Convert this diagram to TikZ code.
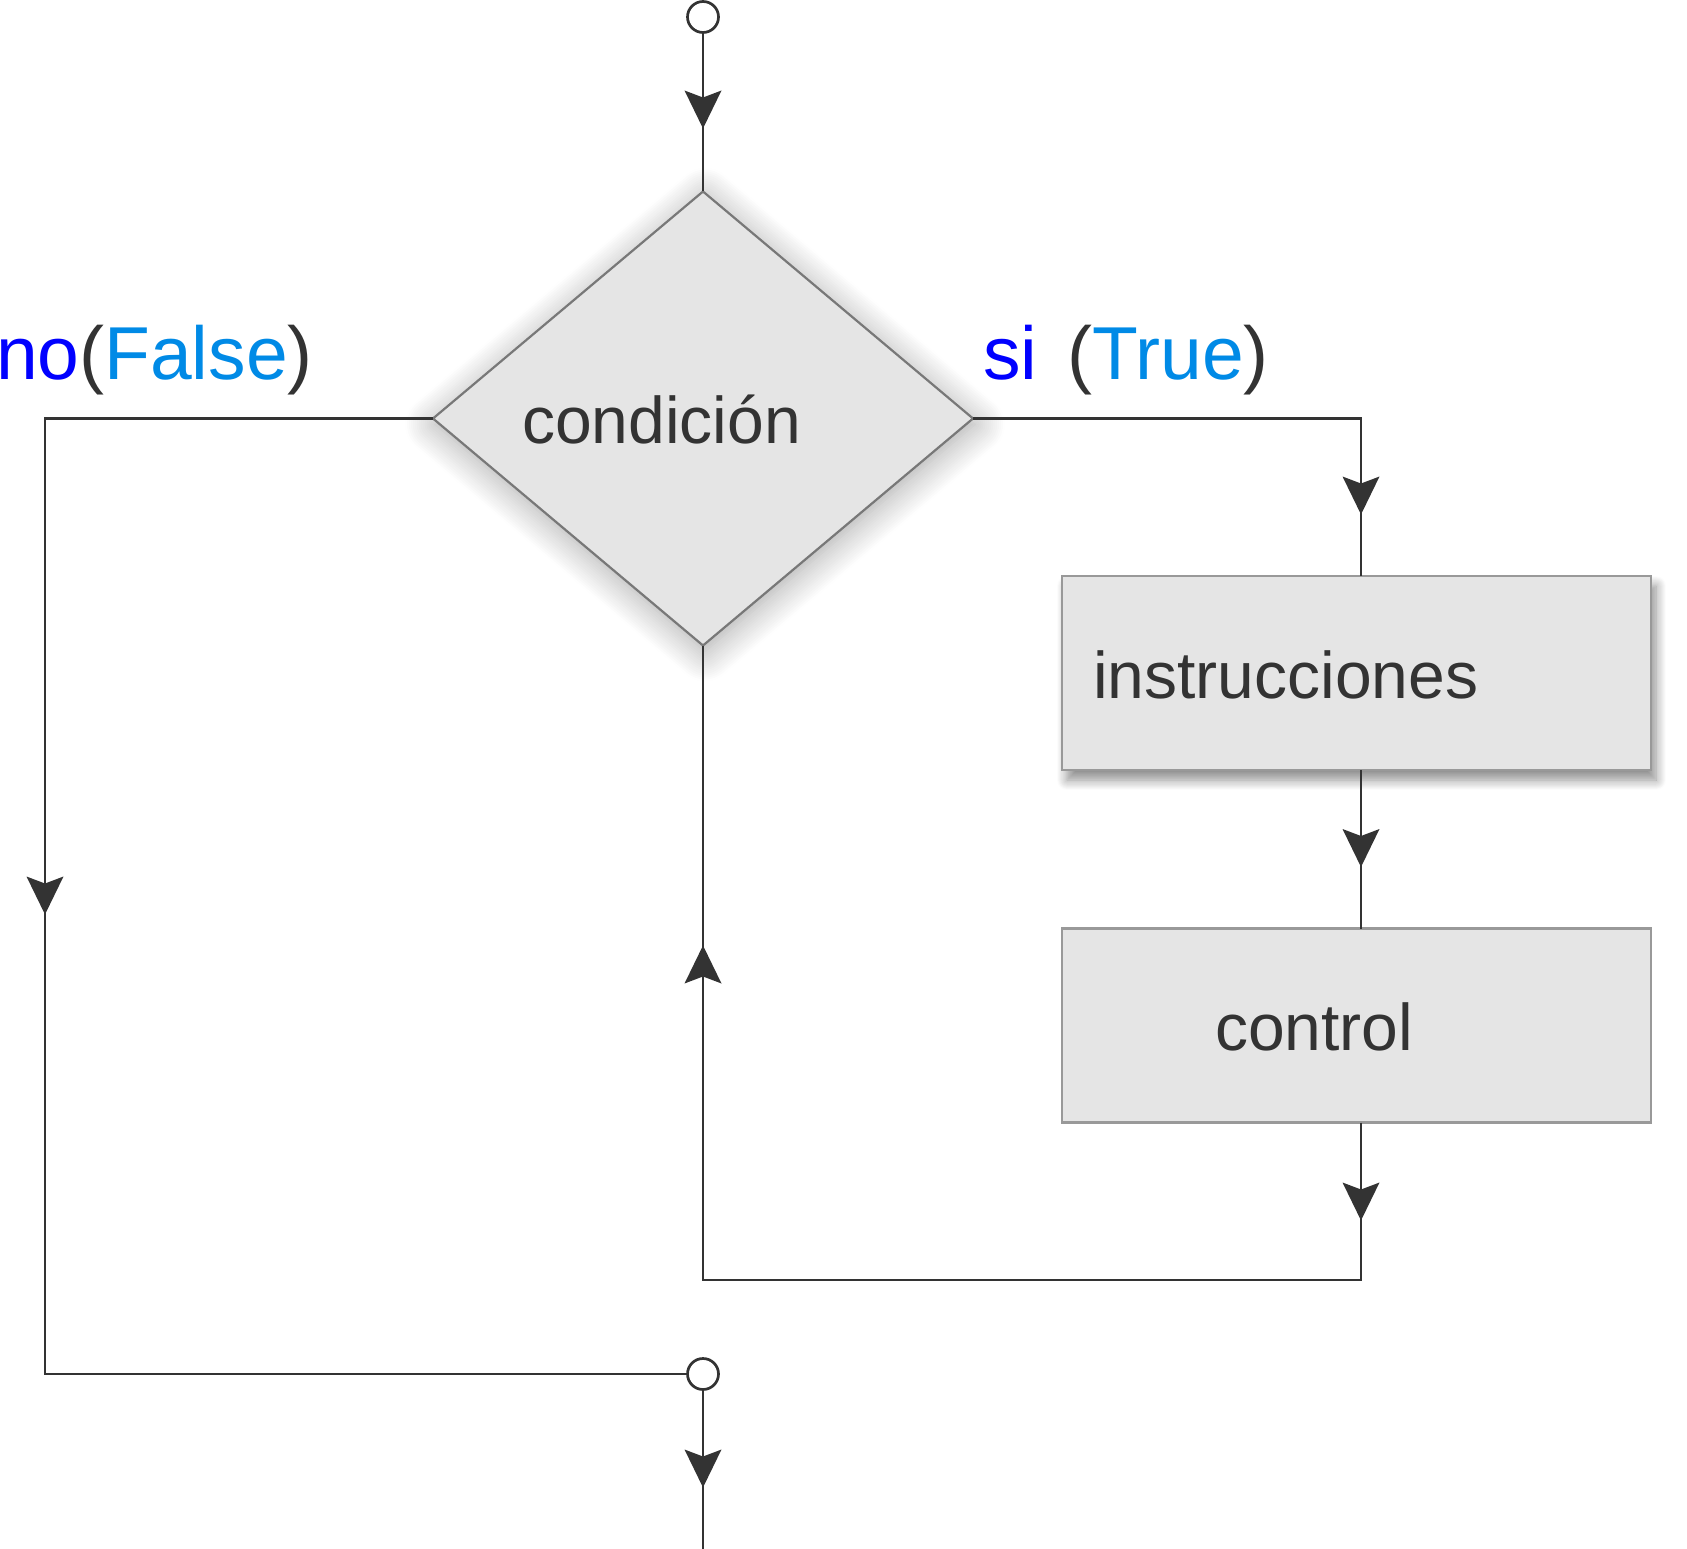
\documentclass[tikz,border=0pt]{standalone}
\usepackage{fontspec}
\setmainfont{Liberation Sans}
\usetikzlibrary{arrows.meta,shapes.geometric,decorations.markings,shadows.blur}
\definecolor{linec}{RGB}{51,51,51}
\definecolor{fillc}{RGB}{229,229,229}
\definecolor{boxborder}{RGB}{153,153,153}
\definecolor{diaborder}{RGB}{120,120,120}
\definecolor{kwblue}{RGB}{0,0,255}
\definecolor{valblue}{RGB}{0,138,230}
\tikzset{
  conn/.style={draw=linec, line width=2.7pt},
  tiparrow/.tip={Stealth[length=38pt,width=37pt,inset=7pt,color=linec,line width=0pt]},
  markat/.style={postaction={decorate, decoration={markings, mark=at position #1pt with {\arrow{tiparrow}}}}},
  term/.style={circle, draw=linec, fill=white, line width=2.7pt, minimum size=31pt, inner sep=0pt, outer sep=0pt},
  decision/.style={diamond, draw=diaborder, fill=fillc, line width=2.2pt, minimum width=540pt, minimum height=454pt, inner sep=0pt, outer sep=0pt,
    blur shadow={shadow xshift=2pt, shadow yshift=-6pt, shadow blur radius=30pt, shadow blur steps=16, shadow opacity=35}},
  procbox/.style={rectangle, draw=boxborder, fill=fillc, line width=2.5pt, minimum width=589pt, minimum height=194pt, inner sep=0pt, outer sep=0pt},
  softshadow/.style={blur shadow={shadow xshift=5pt, shadow yshift=-10pt, shadow blur radius=10pt, shadow blur steps=10, shadow opacity=45}},
  lbl/.style={anchor=base west, inner sep=0pt, text=linec, font=\fontsize{66}{72}\selectfont},
  cond/.style={inner sep=0pt, font=\fontsize{75}{80}\selectfont}
}
\begin{document}
\begin{tikzpicture}[x=1pt,y=-1pt]
\useasboundingbox (0,0) rectangle (1687,1549);

% nodes
\node[term] (t) at (703,17) {};
\node[decision] (d) at (703,418.5) {};
\node[procbox,softshadow] (b1) at (1356.5,673) {};
\node[procbox] (b2) at (1356.5,1025.5) {};
\node[term] (e) at (703,1374) {};
\coordinate (rx) at (1361,0);
\coordinate (lp) at (1361,1280);
\coordinate (lc) at (45,1374);
\coordinate (fin) at (703,1549);

% texts
\node[lbl] (tc) at (522,443) {condición};
\node[lbl] (ti) at (1093,698) {instrucciones};
\node[lbl] (tk) at (1215,1050) {control};
\node[cond, anchor=base east] (nf) at (313,379) {\textcolor{kwblue}{no}\textcolor{linec}{(}\textcolor{valblue}{False}\textcolor{linec}{)}};
\node[cond, anchor=base west] (st) at (983,379) {\textcolor{kwblue}{si}\hspace{30pt}\textcolor{linec}{(}\textcolor{valblue}{True}\textcolor{linec}{)}};

% connectors
\draw[conn, markat=96] (t) -- (d.north);
\draw[conn, markat=484] (d.east) -| (b1.north -| rx);
\draw[conn, markat=97] (b1.south -| rx) -- (b2.north -| rx);
\draw[conn, markat=98, postaction={decorate, decoration={markings, mark=at position 1150pt with {\arrow{tiparrow}}}}] (b2.south -| rx) -- (lp) -| (d.south);
\draw[conn, markat=884] (d.west) -| (lc) -- (e);
\draw[conn, markat=98] (e) -- (fin);
\end{tikzpicture}
\end{document}
